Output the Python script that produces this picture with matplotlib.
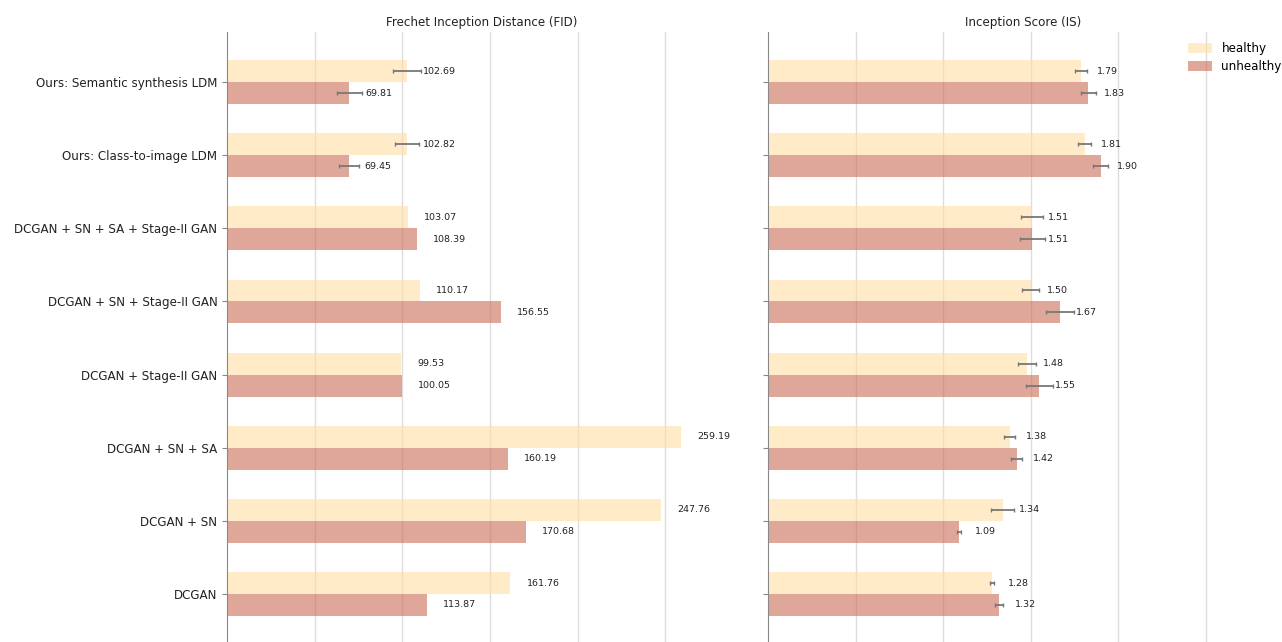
import matplotlib
matplotlib.use("Agg")
import matplotlib.pyplot as plt
import numpy as np

categories = [
    "Ours: Semantic synthesis LDM",
    "Ours: Class-to-image LDM",
    "DCGAN + SN + SA + Stage-II GAN",
    "DCGAN + SN + Stage-II GAN",
    "DCGAN + Stage-II GAN",
    "DCGAN + SN + SA",
    "DCGAN + SN",
    "DCGAN",
]
fid_healthy = [102.69, 102.82, 103.07, 110.17, 99.53, 259.19, 247.76, 161.76]
fid_unhealthy = [69.81, 69.45, 108.39, 156.55, 100.05, 160.19, 170.68, 113.87]
fid_healthy_err = [8.0, 6.8, 0, 0, 0, 0, 0, 0]
fid_unhealthy_err = [7.0, 5.7, 0, 0, 0, 0, 0, 0]
is_healthy = [1.79, 1.81, 1.51, 1.50, 1.48, 1.38, 1.34, 1.28]
is_unhealthy = [1.83, 1.90, 1.51, 1.67, 1.55, 1.42, 1.09, 1.32]
is_healthy_err = [0.034, 0.037, 0.063, 0.05, 0.05, 0.03, 0.063, 0.012]
is_unhealthy_err = [0.042, 0.043, 0.07, 0.08, 0.077, 0.03, 0.012, 0.022]

C_H = "#FFDEA3"
C_U = "#CB6B57"
ALPHA = 0.6

fig = plt.figure(figsize=(12.82, 6.42), dpi=100)
W, H = 1282, 642
ax1 = fig.add_axes([227 / W, 0, 510 / W, 610 / H])
ax2 = fig.add_axes([768 / W, 0, 510 / W, 610 / H])

n = len(categories)
y = np.arange(n)[::-1]  # top category first
bh = 0.3

def errs(ax, yy, vals, err):
    vals = np.asarray(vals, float)
    err = np.asarray(err, float)
    m = err > 0
    if m.any():
        ax.errorbar(vals[m], np.asarray(yy)[m], xerr=err[m], fmt="none",
                    ecolor="#777777", elinewidth=1.3, capsize=1.5, capthick=1, zorder=3)

def panel(ax, hv, uv, he, ue, title, xmax, fmt):
    ax.barh(y + bh / 2, hv, height=bh, color=C_H, alpha=ALPHA, label="healthy")
    ax.barh(y - bh / 2, uv, height=bh, color=C_U, alpha=ALPHA, label="unhealthy")
    errs(ax, y + bh / 2, hv, he)
    errs(ax, y - bh / 2, uv, ue)
    for yy, v in zip(y + bh / 2, hv):
        ax.annotate(fmt % v, (v, yy), xytext=(11.5, 0), textcoords="offset points",
                    va="center", ha="left", fontsize=6.8, color="#222222")
    for yy, v in zip(y - bh / 2, uv):
        ax.annotate(fmt % v, (v, yy), xytext=(11.5, 0), textcoords="offset points",
                    va="center", ha="left", fontsize=6.8, color="#222222")
    ax.set_xlim(0, xmax)
    ax.set_ylim(-0.656, 7.684)
    ax.set_yticks(y)
    ax.set_xticks([])
    ax.set_axisbelow(True)
    for s in ["top", "right", "bottom"]:
        ax.spines[s].set_visible(False)
    ax.spines["left"].set_color("#888888")
    ax.tick_params(axis="y", colors="#888888", labelcolor="#222222", labelsize=8.6)
    ax.set_title(title, fontsize=8.6, pad=4, color="#222222")

panel(ax1, fid_healthy, fid_unhealthy, fid_healthy_err, fid_unhealthy_err,
      "Frechet Inception Distance (FID)", 291, "%.2f")
panel(ax2, is_healthy, is_unhealthy, is_healthy_err, is_unhealthy_err,
      "Inception Score (IS)", 2.914, "%.2f")

for g in [50, 100, 150, 200, 250]:
    ax1.axvline(g, color="#dddddd", lw=1, zorder=0)
for g in [0.5, 1.0, 1.5, 2.0, 2.5]:
    ax2.axvline(g, color="#dddddd", lw=1, zorder=0)

ax1.set_yticklabels(categories)
ax2.set_yticklabels([])

h, l = ax1.get_legend_handles_labels()
fig.legend(h, l, loc="upper left", bbox_to_anchor=(1188 / W, 1 - 42 / H),
           frameon=False, fontsize=8.6, borderpad=0, borderaxespad=0,
           handlelength=2.0, handleheight=0.85, labelspacing=0.45, handletextpad=0.8)

fig.savefig("out.png", dpi=100)
